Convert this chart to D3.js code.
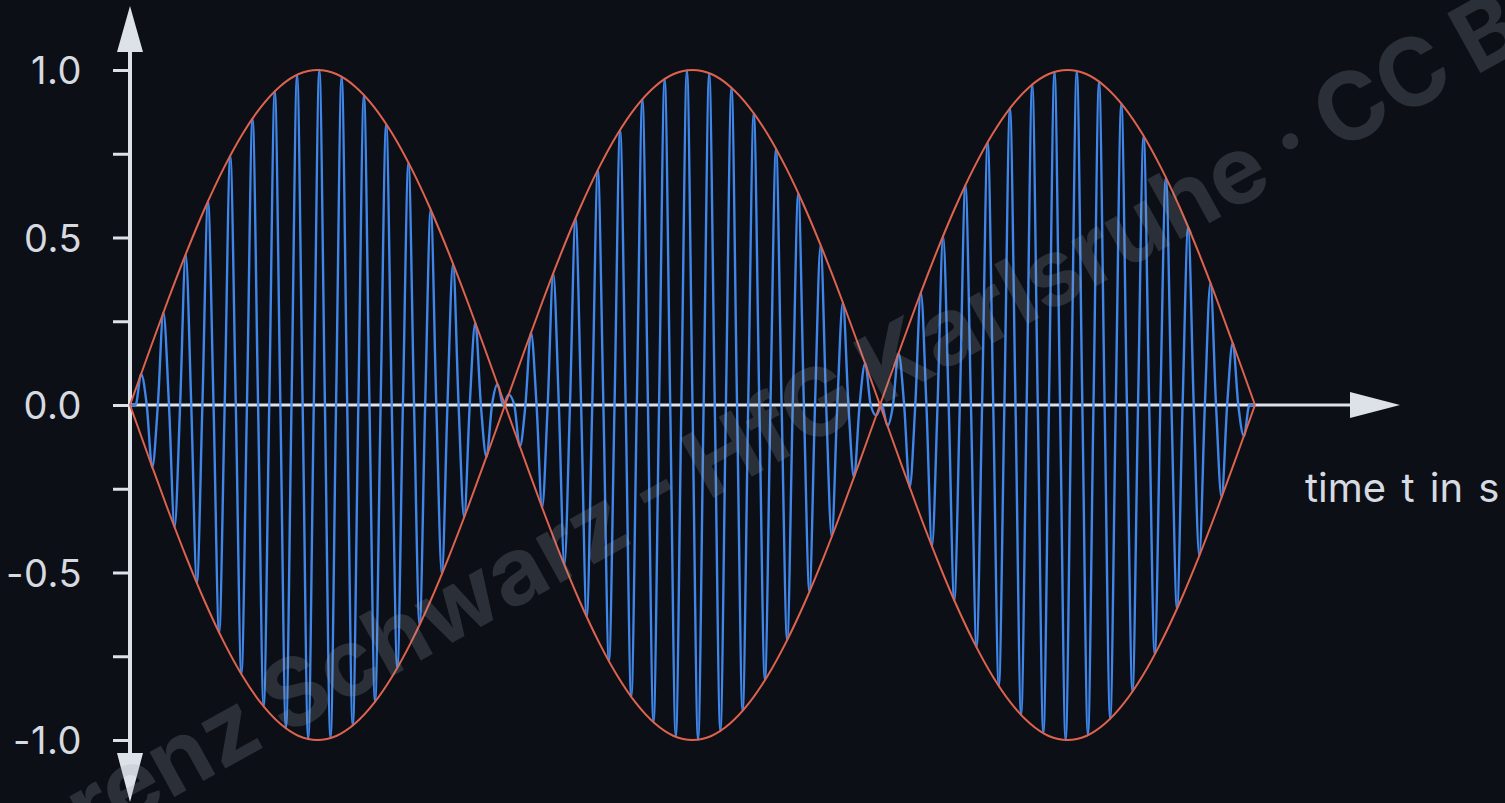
<!DOCTYPE html>
<html>
<head>
<meta charset="utf-8">
<script src="https://cdn.jsdelivr.net/npm/d3@7/dist/d3.min.js"></script>
<style>
    body { margin: 0; background: #0c0f16; }
    svg { display: block; }
</style>
</head>
<body>
<svg id="graph"></svg>
<script>
//Time between two signal samples (s)
var sampleStep = 1 / 202;

//Beat signal: every peak and every zero crossing from t = 0 to t = 1 s
var signal = [
    0, 0, 0.093, 0, -0.186, 0, 0.276, 0, -0.365, 0, 0.450, 0, -0.531, 0, 0.608, 0, -0.679, 0, 0.744, 0,
    -0.803, 0, 0.855, 0, -0.900, 0, 0.937, 0, -0.965, 0, 0.985, 0, -0.997, 0, 1.000, 0, -0.994, 0, 0.980, 0,
    -0.957, 0, 0.925, 0, -0.886, 0, 0.839, 0, -0.785, 0, 0.723, 0, -0.656, 0, 0.583, 0, -0.505, 0, 0.422, 0,
    -0.336, 0, 0.246, 0, -0.155, 0, 0.062, 0, 0.031, 0, -0.124, 0, 0.216, 0, -0.306, 0, 0.393, 0, -0.477, 0,
    0.557, 0, -0.632, 0, 0.702, 0, -0.765, 0, 0.821, 0, -0.871, 0, 0.913, 0, -0.947, 0, 0.973, 0, -0.990, 0,
    0.999, 0, -0.999, 0, 0.990, 0, -0.973, 0, 0.947, 0, -0.913, 0, 0.871, 0, -0.821, 0, 0.765, 0, -0.702, 0,
    0.632, 0, -0.557, 0, 0.477, 0, -0.393, 0, 0.306, 0, -0.216, 0, 0.124, 0, -0.031, 0, -0.062, 0, 0.155, 0,
    -0.246, 0, 0.336, 0, -0.422, 0, 0.505, 0, -0.583, 0, 0.656, 0, -0.723, 0, 0.785, 0, -0.839, 0, 0.886, 0,
    -0.925, 0, 0.957, 0, -0.980, 0, 0.994, 0, -1.000, 0, 0.997, 0, -0.985, 0, 0.965, 0, -0.937, 0, 0.900, 0,
    -0.855, 0, 0.803, 0, -0.744, 0, 0.679, 0, -0.608, 0, 0.531, 0, -0.450, 0, 0.365, 0, -0.276, 0, 0.186, 0,
    -0.093, 0, 0
];

//Time between two envelope samples (s)
var envelopeStep = 1 / 60;

//Envelope amplitude, one lobe per row (each lobe lasts 1/3 s)
var envelopeLobes = [
    [0, 0.156, 0.309, 0.454, 0.588, 0.707, 0.809, 0.891, 0.951, 0.988, 1, 0.988, 0.951, 0.891, 0.809, 0.707, 0.588, 0.454, 0.309, 0.156, 0],
    [0, 0.156, 0.309, 0.454, 0.588, 0.707, 0.809, 0.891, 0.951, 0.988, 1, 0.988, 0.951, 0.891, 0.809, 0.707, 0.588, 0.454, 0.309, 0.156, 0],
    [0, 0.156, 0.309, 0.454, 0.588, 0.707, 0.809, 0.891, 0.951, 0.988, 1, 0.988, 0.951, 0.891, 0.809, 0.707, 0.588, 0.454, 0.309, 0.156, 0]
];

//Y axis ticks and their labels
var yTicks = [-1, -0.75, -0.5, -0.25, 0, 0.25, 0.5, 0.75, 1];
var yTickLabels = ["-1.0", "", "-0.5", "", "0.0", "", "0.5", "", "1.0"];

var xLabel = "time t in s";
var watermark = "Lorenz Schwarz - HfG Karlsruhe · CC BY";

//Set graph size
var screen = {width: 1505, height: 803};

var svg = d3.select("#graph")
    .attr("width", screen.width)
    .attr("height", screen.height);

//Define fnc to scale time
var xScale = d3.scaleLinear()
    .domain([0, 1])
    .range([130, 1255]);

//Define fnc to scale amplitude
var yScale = d3.scaleLinear()
    .domain([-1, 1])
    .range([740, 70]);

var axisColor = "#dde1e8";
var textColor = "#d6dae1";
var fontFamily = "Inter, 'Noto Sans', sans-serif";

//Y axis with ticks and labels
var yAxis = d3.axisLeft(yScale)
    .tickValues(yTicks)
    .tickSize(17)
    .tickPadding(31)
    .tickFormat(function(d, i){ return yTickLabels[i]; });

var yAxisGroup = svg.append("g")
    .attr("transform", "translate(" + xScale(0) + ",0)")
    .call(yAxis);

yAxisGroup.select(".domain").remove();
yAxisGroup.selectAll(".tick line")
    .attr("stroke", axisColor)
    .attr("stroke-width", 3);
yAxisGroup.selectAll(".tick text")
    .attr("fill", textColor)
    .style("font-family", fontFamily)
    .style("font-size", "38px")
    .style("letter-spacing", "0.5px")
    .attr("dy", "0.36em");

//Vertical axis line with arrows on both ends
var x0 = xScale(0);
svg.append("line")
    .attr("x1", x0).attr("x2", x0)
    .attr("y1", yScale(1.1)).attr("y2", yScale(-1.1))
    .attr("stroke", axisColor)
    .attr("stroke-width", 4);

svg.append("path")
    .attr("d", "M" + x0 + "," + (yScale(1) - 64) + "L" + (x0 + 13) + "," + (yScale(1) - 18) +
        "L" + (x0 - 13) + "," + (yScale(1) - 18) + "Z")
    .attr("fill", axisColor);

svg.append("path")
    .attr("d", "M" + x0 + "," + (yScale(-1) + 62) + "L" + (x0 + 13) + "," + (yScale(-1) + 13) +
        "L" + (x0 - 13) + "," + (yScale(-1) + 13) + "Z")
    .attr("fill", axisColor);

//Horizontal time axis with arrow
var y0 = yScale(0);
svg.append("line")
    .attr("x1", x0).attr("x2", 1360)
    .attr("y1", y0).attr("y2", y0)
    .attr("stroke", axisColor)
    .attr("stroke-width", 3);

svg.append("path")
    .attr("d", "M1400," + y0 + "L1350," + (y0 - 13) + "L1350," + (y0 + 13) + "Z")
    .attr("fill", axisColor);

svg.append("text")
    .attr("x", 1305)
    .attr("y", 502)
    .attr("fill", textColor)
    .style("font-family", fontFamily)
    .style("font-size", "40px")
    .style("word-spacing", "4px")
    .text(xLabel);

//Draw the fast oscillating signal
var signalLine = d3.line()
    .x(function(d, i){ return xScale(i * sampleStep); })
    .y(function(d){ return yScale(d); })
    .curve(d3.curveMonotoneX);

svg.append("path")
    .datum(signal)
    .attr("d", signalLine)
    .attr("fill", "none")
    .attr("stroke", "#3f86e8")
    .attr("stroke-width", 2.4);

//Draw the envelope, above and below, one lobe at a time
envelopeLobes.forEach(function(lobe, k){
    var start = k * (lobe.length - 1) * envelopeStep;
    [1, -1].forEach(function(sign){
        var envLine = d3.line()
            .x(function(d, i){ return xScale(start + i * envelopeStep); })
            .y(function(d){ return yScale(sign * d); })
            .curve(d3.curveMonotoneX);
        svg.append("path")
            .datum(lobe)
            .attr("d", envLine)
            .attr("fill", "none")
            .attr("stroke", "#de634e")
            .attr("stroke-width", 2);
    });
});

//Faint watermark across the picture
svg.append("text")
    .attr("transform", "translate(-8,898) rotate(-29)")
    .attr("fill", "#9aa3b2")
    .attr("fill-opacity", 0.22)
    .style("font-family", fontFamily)
    .style("font-weight", "700")
    .style("font-size", "94px")
    .style("word-spacing", "-3px")
    .text(watermark);
</script>
</body>
</html>
